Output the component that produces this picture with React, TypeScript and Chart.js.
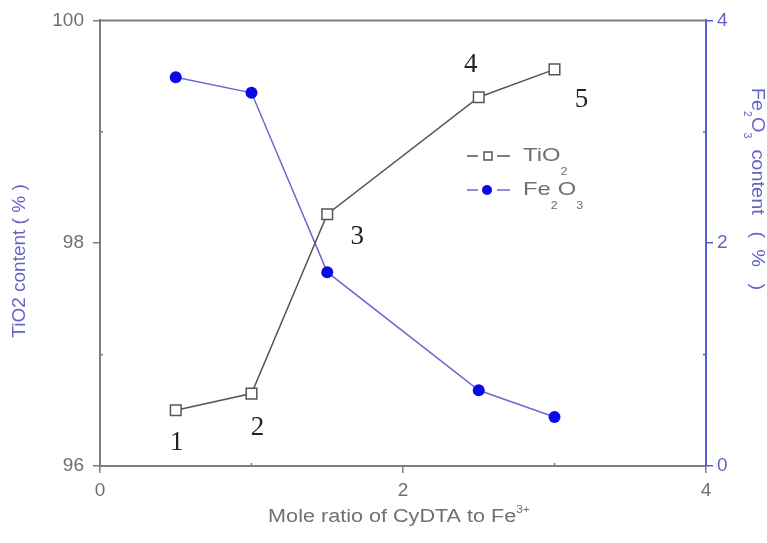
import React, { useEffect, useRef } from "react";
import { Chart, registerables } from "chart.js";

Chart.register(...registerables);

const moleRatio = [0.5, 1, 1.5, 2.5, 3];
const tio2Content = [96.5, 96.65, 98.26, 99.31, 99.56];
const fe2o3Content = [3.49, 3.35, 1.74, 0.68, 0.44];
const sampleLabels = ["1", "2", "3", "4", "5"];
const labelOffsets = [
  [1, 33],
  [6, 34],
  [30, 23],
  [-8, -32],
  [27, 30],
];
const xMinorTicks = [1, 3];
const yMinorTicks = [97, 99];
const y1MinorTicks = [1, 3];

const SANS = "'Liberation Sans', Arial, sans-serif";
const SERIF = "'Liberation Serif', 'Times New Roman', serif";
const GRAY = "#707070";
const AXIS = "#7c7c7c";
const BLUE_T = "#6464c8";
const BLUE_AX = "#5a5ad2";
const BLUE_PT = "#0a0ae6";

type Part = { t: string; k?: "sub" | "sup" };

function partSize(p: Part, size: number) {
  return p.k ? Math.round(size * 0.55) : size;
}

function richWidth(ctx: CanvasRenderingContext2D, parts: Part[], size: number) {
  let w = 0;
  for (const p of parts) {
    ctx.font = `${partSize(p, size)}px ${SANS}`;
    w += ctx.measureText(p.t).width;
  }
  return w;
}

function drawRich(
  ctx: CanvasRenderingContext2D,
  parts: Part[],
  x: number,
  y: number,
  size: number,
  color: string,
  align: "left" | "center",
  stretch = 1,
  subDrop = 0.4
) {
  const w = richWidth(ctx, parts, size) * stretch;
  ctx.save();
  ctx.translate(align === "center" ? x - w / 2 : x, y);
  ctx.scale(stretch, 1);
  let cx = 0;
  ctx.fillStyle = color;
  ctx.textBaseline = "middle";
  ctx.textAlign = "left";
  for (const p of parts) {
    ctx.font = `${partSize(p, size)}px ${SANS}`;
    const dy = p.k === "sub" ? size * subDrop : p.k === "sup" ? -size * 0.4 : 0;
    ctx.fillText(p.t, cx, dy);
    cx += ctx.measureText(p.t).width;
  }
  ctx.restore();
}

const decorPlugin = {
  id: "decor",
  afterDraw(chart: any) {
    const ctx: CanvasRenderingContext2D = chart.ctx;
    const { left, right, top, bottom } = chart.chartArea;
    const xs = chart.scales.x;
    const ys = chart.scales.y;
    const y1s = chart.scales.y1;
    ctx.save();
    // top border
    ctx.strokeStyle = AXIS;
    ctx.lineWidth = 2;
    ctx.beginPath();
    ctx.moveTo(left, top);
    ctx.lineTo(right, top);
    ctx.stroke();
    // minor ticks
    ctx.lineWidth = 1.5;
    ctx.strokeStyle = AXIS;
    for (const v of xMinorTicks) {
      const px = xs.getPixelForValue(v);
      ctx.beginPath();
      ctx.moveTo(px, bottom);
      ctx.lineTo(px, bottom - 3);
      ctx.stroke();
    }
    for (const v of yMinorTicks) {
      const py = ys.getPixelForValue(v);
      ctx.beginPath();
      ctx.moveTo(left, py);
      ctx.lineTo(left + 3, py);
      ctx.stroke();
    }
    ctx.strokeStyle = BLUE_AX;
    for (const v of y1MinorTicks) {
      const py = y1s.getPixelForValue(v);
      ctx.beginPath();
      ctx.moveTo(right, py);
      ctx.lineTo(right - 3, py);
      ctx.stroke();
    }
    // sample number labels
    const meta = chart.getDatasetMeta(0);
    ctx.fillStyle = "#222";
    ctx.font = `27px ${SERIF}`;
    ctx.textAlign = "center";
    ctx.textBaseline = "middle";
    meta.data.forEach((pt: any, i: number) => {
      const [dx, dy] = labelOffsets[i];
      ctx.fillText(sampleLabels[i], pt.x + dx, pt.y + dy);
    });
    // legend
    const lx = 467;
    const rows = [
      { y: 156, parts: [{ t: "TiO" }, { t: "2", k: "sub" }] as Part[], color: "#555", square: true },
      { y: 190, parts: [{ t: "Fe" }, { t: "2", k: "sub" }, { t: "O" }, { t: "3", k: "sub" }] as Part[], color: "#6a6ad2", square: false },
    ];
    for (const r of rows) {
      ctx.strokeStyle = r.color;
      ctx.lineWidth = 1.5;
      ctx.beginPath();
      ctx.moveTo(lx, r.y);
      ctx.lineTo(lx + 11, r.y);
      ctx.moveTo(lx + 30, r.y);
      ctx.lineTo(lx + 43, r.y);
      ctx.stroke();
      if (r.square) {
        ctx.fillStyle = "#fff";
        ctx.fillRect(lx + 17, r.y - 4, 8, 8);
        ctx.strokeStyle = "#555";
        ctx.strokeRect(lx + 17, r.y - 4, 8, 8);
      } else {
        ctx.fillStyle = BLUE_PT;
        ctx.beginPath();
        ctx.arc(lx + 20, r.y, 5, 0, Math.PI * 2);
        ctx.fill();
      }
      drawRich(ctx, r.parts, lx + 56, r.y, 19, GRAY, "left", 1.25, 0.85);
    }
    // axis titles
    ctx.save();
    ctx.translate(20, 261);
    ctx.rotate(-Math.PI / 2);
    drawRich(ctx, [{ t: "TiO2 content ( % )" }], 0, 0, 19, BLUE_T, "center");
    ctx.restore();
    ctx.save();
    ctx.translate(757, 189);
    ctx.rotate(Math.PI / 2);
    drawRich(
      ctx,
      [{ t: "Fe" }, { t: "2", k: "sub" }, { t: "O" }, { t: "3", k: "sub" }, { t: "  content   (  %   )" }],
      0,
      0,
      19,
      BLUE_T,
      "center",
      1.05,
      0.55
    );
    ctx.restore();
    drawRich(
      ctx,
      [{ t: "Mole ratio of CyDTA to Fe" }, { t: "3+", k: "sup" }],
      399,
      517,
      18,
      GRAY,
      "center",
      1.2
    );
    ctx.restore();
  },
};

export default function App() {
  const ref = useRef<HTMLCanvasElement | null>(null);
  useEffect(() => {
    document.body.style.margin = "0";
    const canvas = ref.current;
    if (!canvas) return;
    const tickFont = { family: SANS, size: 19 };
    const chart = new Chart(canvas, {
      type: "line",
      data: {
        datasets: [
          {
            label: "TiO2",
            data: moleRatio.map((x, i) => ({ x, y: tio2Content[i] })),
            yAxisID: "y",
            borderColor: "#555",
            borderWidth: 1.5,
            pointStyle: "rect",
            pointRadius: 7.5,
            pointBackgroundColor: "#fff",
            pointBorderColor: "#555",
            pointBorderWidth: 1.5,
            tension: 0,
          },
          {
            label: "Fe2O3",
            data: moleRatio.map((x, i) => ({ x, y: fe2o3Content[i] })),
            yAxisID: "y1",
            borderColor: "#6a6ad2",
            borderWidth: 1.5,
            pointStyle: "circle",
            pointRadius: 6,
            pointBackgroundColor: BLUE_PT,
            pointBorderColor: BLUE_PT,
            pointBorderWidth: 0,
            tension: 0,
          },
        ],
      },
      options: {
        animation: false,
        responsive: false,
        maintainAspectRatio: false,
        layout: { padding: { top: 20, left: 0, right: 0, bottom: 0 } },
        plugins: { legend: { display: false }, tooltip: { enabled: false } },
        scales: {
          x: {
            type: "linear",
            min: 0,
            max: 4,
            ticks: { stepSize: 2, color: GRAY, font: tickFont, padding: 6 },
            grid: { display: true, drawOnChartArea: false, drawTicks: true, tickLength: 7, color: AXIS, lineWidth: 1.5 },
            border: { color: AXIS, width: 2 },
            afterFit: (s: any) => {
              s.height = 77;
            },
          },
          y: {
            type: "linear",
            position: "left",
            min: 96,
            max: 100,
            ticks: { stepSize: 2, color: GRAY, font: tickFont, padding: 9 },
            grid: { display: true, drawOnChartArea: false, drawTicks: true, tickLength: 7, color: AXIS, lineWidth: 1.5 },
            border: { color: AXIS, width: 2 },
            afterFit: (s: any) => {
              s.width = 100;
            },
          },
          y1: {
            type: "linear",
            position: "right",
            min: 0,
            max: 4,
            ticks: { stepSize: 2, color: BLUE_T, font: tickFont, padding: 4 },
            grid: { display: true, drawOnChartArea: false, drawTicks: true, tickLength: 7, color: BLUE_AX, lineWidth: 1.5 },
            border: { color: BLUE_AX, width: 2 },
            afterFit: (s: any) => {
              s.width = 61;
            },
          },
        },
      } as any,
      plugins: [decorPlugin],
    });
    return () => chart.destroy();
  }, []);
  return (
    <div style={{ position: "fixed", left: 0, top: 0, width: 767, height: 543, background: "#fff" }}>
      <canvas ref={ref} width={767} height={543} style={{ width: 767, height: 543 }} />
    </div>
  );
}
